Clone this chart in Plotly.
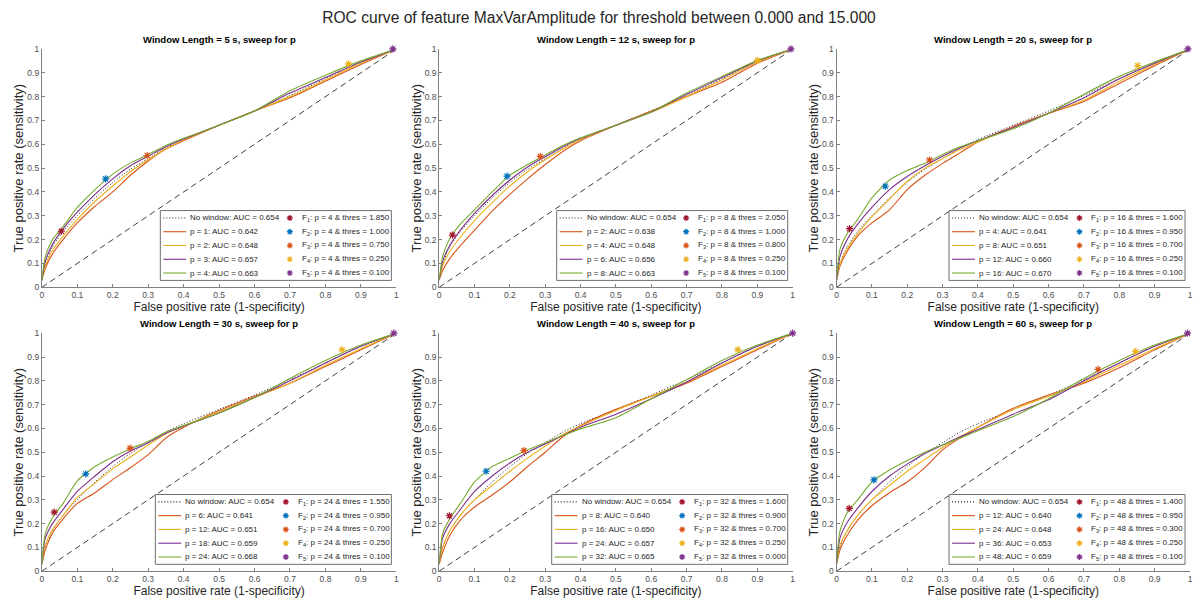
import plotly.graph_objects as go

W, H = 1198, 608
FONT = "Liberation Sans, Arial, Helvetica, sans-serif"

# ---------------- data ----------------
FPR = [0, 0.01, 0.03, 0.06, 0.1, 0.15, 0.2, 0.25, 0.3, 0.35, 0.4, 0.5, 0.6, 0.7, 0.8, 0.9, 1.0]

NOWIN_TPR = [0.03, 0.10, 0.17, 0.235, 0.30, 0.375, 0.44, 0.495, 0.54, 0.585, 0.62, 0.68, 0.74, 0.805, 0.875, 0.945, 1.0]
NOWIN_AUC = 0.654

WINDOWS = [5, 12, 20, 30, 40, 60]

P_W5 = [1, 2, 3, 4]
AUC_W5 = [0.642, 0.648, 0.657, 0.663]
TPR_W5 = [
    [0.03, 0.08, 0.14, 0.20, 0.27, 0.34, 0.40, 0.47, 0.53, 0.58, 0.615, 0.68, 0.74, 0.795, 0.865, 0.935, 1.0],
    [0.03, 0.09, 0.155, 0.215, 0.285, 0.36, 0.425, 0.485, 0.535, 0.58, 0.618, 0.68, 0.74, 0.80, 0.87, 0.94, 1.0],
    [0.03, 0.11, 0.18, 0.245, 0.315, 0.39, 0.455, 0.51, 0.55, 0.59, 0.622, 0.68, 0.74, 0.815, 0.88, 0.945, 1.0],
    [0.03, 0.13, 0.20, 0.255, 0.335, 0.41, 0.475, 0.522, 0.557, 0.595, 0.625, 0.68, 0.74, 0.825, 0.89, 0.95, 1.0],
]
FX_W5 = [0.055, 0.18, 0.297, 0.865, 0.99]
FY_W5 = [0.235, 0.455, 0.553, 0.937, 1.0]
THR_W5 = [1.850, 1.000, 0.750, 0.250, 0.100]

P_W12 = [2, 4, 6, 8]
AUC_W12 = [0.638, 0.648, 0.656, 0.663]
TPR_W12 = [
    [0.03, 0.07, 0.12, 0.175, 0.24, 0.32, 0.39, 0.455, 0.515, 0.57, 0.615, 0.68, 0.74, 0.80, 0.86, 0.94, 1.0],
    [0.03, 0.09, 0.15, 0.21, 0.28, 0.355, 0.425, 0.485, 0.535, 0.58, 0.62, 0.68, 0.735, 0.80, 0.87, 0.945, 1.0],
    [0.03, 0.11, 0.175, 0.24, 0.31, 0.385, 0.45, 0.505, 0.548, 0.59, 0.625, 0.68, 0.735, 0.81, 0.88, 0.95, 1.0],
    [0.03, 0.13, 0.205, 0.265, 0.325, 0.40, 0.47, 0.515, 0.555, 0.595, 0.627, 0.68, 0.735, 0.815, 0.885, 0.952, 1.0],
]
FX_W12 = [0.0375, 0.192, 0.286, 0.90, 0.995]
FY_W12 = [0.219, 0.466, 0.549, 0.952, 1.0]
THR_W12 = [2.050, 1.000, 0.800, 0.250, 0.100]

P_W20 = [4, 8, 12, 16]
AUC_W20 = [0.641, 0.651, 0.660, 0.670]
TPR_W20 = [
    [0.03, 0.09, 0.15, 0.215, 0.27, 0.325, 0.41, 0.47, 0.52, 0.565, 0.61, 0.675, 0.73, 0.78, 0.855, 0.93, 1.0],
    [0.03, 0.10, 0.16, 0.225, 0.295, 0.37, 0.445, 0.50, 0.54, 0.578, 0.61, 0.67, 0.73, 0.785, 0.865, 0.935, 1.0],
    [0.03, 0.13, 0.20, 0.265, 0.335, 0.41, 0.465, 0.51, 0.55, 0.585, 0.615, 0.67, 0.73, 0.795, 0.875, 0.94, 1.0],
    [0.03, 0.16, 0.225, 0.285, 0.375, 0.45, 0.49, 0.52, 0.557, 0.59, 0.615, 0.665, 0.73, 0.81, 0.885, 0.945, 1.0],
]
FX_W20 = [0.037, 0.138, 0.263, 0.852, 0.994]
FY_W20 = [0.246, 0.424, 0.534, 0.93, 1.0]
THR_W20 = [1.600, 0.950, 0.700, 0.250, 0.100]

P_W30 = [6, 12, 18, 24]
AUC_W30 = [0.641, 0.651, 0.659, 0.668]
TPR_W30 = [
    [0.03, 0.09, 0.16, 0.22, 0.285, 0.33, 0.385, 0.435, 0.49, 0.56, 0.605, 0.675, 0.735, 0.79, 0.86, 0.93, 1.0],
    [0.03, 0.11, 0.175, 0.235, 0.31, 0.37, 0.43, 0.48, 0.53, 0.578, 0.61, 0.67, 0.73, 0.79, 0.865, 0.935, 1.0],
    [0.03, 0.14, 0.20, 0.26, 0.335, 0.40, 0.46, 0.505, 0.54, 0.58, 0.61, 0.665, 0.73, 0.80, 0.875, 0.945, 1.0],
    [0.03, 0.16, 0.225, 0.285, 0.38, 0.44, 0.48, 0.515, 0.545, 0.585, 0.612, 0.665, 0.73, 0.81, 0.885, 0.95, 1.0],
]
FX_W30 = [0.035, 0.124, 0.249, 0.847, 0.993]
FY_W30 = [0.248, 0.409, 0.517, 0.931, 1.0]
THR_W30 = [1.550, 0.950, 0.700, 0.250, 0.100]

P_W40 = [8, 16, 24, 32]
AUC_W40 = [0.640, 0.650, 0.657, 0.665]
TPR_W40 = [
    [0.03, 0.08, 0.15, 0.215, 0.27, 0.32, 0.375, 0.44, 0.50, 0.565, 0.612, 0.68, 0.735, 0.79, 0.86, 0.93, 1.0],
    [0.03, 0.10, 0.17, 0.235, 0.30, 0.36, 0.42, 0.475, 0.525, 0.575, 0.61, 0.675, 0.735, 0.795, 0.865, 0.935, 1.0],
    [0.03, 0.14, 0.20, 0.26, 0.335, 0.40, 0.455, 0.50, 0.535, 0.57, 0.605, 0.66, 0.725, 0.795, 0.875, 0.945, 1.0],
    [0.03, 0.16, 0.22, 0.285, 0.375, 0.44, 0.475, 0.51, 0.54, 0.57, 0.598, 0.645, 0.725, 0.805, 0.885, 0.95, 1.0],
]
FX_W40 = [0.029, 0.133, 0.24, 0.845, 1.0]
FY_W40 = [0.233, 0.42, 0.507, 0.931, 1.0]
THR_W40 = [1.600, 0.900, 0.700, 0.250, 0.000]

P_W60 = [12, 24, 36, 48]
AUC_W60 = [0.640, 0.648, 0.653, 0.659]
TPR_W60 = [
    [0.03, 0.09, 0.15, 0.215, 0.275, 0.33, 0.375, 0.435, 0.51, 0.56, 0.605, 0.685, 0.74, 0.79, 0.855, 0.93, 1.0],
    [0.03, 0.11, 0.17, 0.235, 0.30, 0.36, 0.42, 0.47, 0.52, 0.565, 0.605, 0.68, 0.735, 0.795, 0.865, 0.935, 1.0],
    [0.03, 0.14, 0.205, 0.265, 0.335, 0.40, 0.45, 0.495, 0.53, 0.565, 0.595, 0.66, 0.72, 0.80, 0.875, 0.945, 1.0],
    [0.03, 0.17, 0.245, 0.30, 0.375, 0.425, 0.465, 0.50, 0.53, 0.56, 0.59, 0.65, 0.725, 0.81, 0.885, 0.95, 1.0],
]
FX_W60 = [0.036, 0.106, 0.74, 0.846, 0.993]
FY_W60 = [0.264, 0.384, 0.848, 0.923, 1.0]
THR_W60 = [1.400, 0.950, 0.300, 0.250, 0.100]

CURVE_COLORS = ["#D95319", "#EDB120", "#7E2F8E", "#77AC30"]
F_COLORS = ["#A2142F", "#0072BD", "#D95319", "#EDB120", "#7E2F8E"]

PANELS = [
    (WINDOWS[0], P_W5, AUC_W5, TPR_W5, FX_W5, FY_W5, THR_W5),
    (WINDOWS[1], P_W12, AUC_W12, TPR_W12, FX_W12, FY_W12, THR_W12),
    (WINDOWS[2], P_W20, AUC_W20, TPR_W20, FX_W20, FY_W20, THR_W20),
    (WINDOWS[3], P_W30, AUC_W30, TPR_W30, FX_W30, FY_W30, THR_W30),
    (WINDOWS[4], P_W40, AUC_W40, TPR_W40, FX_W40, FY_W40, THR_W40),
    (WINDOWS[5], P_W60, AUC_W60, TPR_W60, FX_W60, FY_W60, THR_W60),
]

# ---------------- layout (pixels) ----------------
COL_L = [40, 439, 838]
COL_R = [396, 794, 1193]
ROW_T = [44.7, 333.7]
ROW_B = [287, 575.7]


def fx(px):
    return px / W


def fy(py):
    return 1 - py / H


AX_LINE = "#808080"
TICK_FONT = dict(family=FONT, size=8.5, color="#4d4d4d")
TEXT_COLOR = "#262626"
LEG_FONT = dict(family=FONT, size=8, color=TEXT_COLOR)

fig = go.Figure()
shapes = []
annotations = []

for i, (win, ps, aucs, tprs, fxs, fys, thrs) in enumerate(PANELS):
    r, c = divmod(i, 3)
    n = "" if i == 0 else str(i + 1)
    xa, ya = "x" + n, "y" + n

    # chance diagonal
    fig.add_trace(go.Scatter(x=[0, 1], y=[0, 1], mode="lines", xaxis=xa, yaxis=ya,
                             line=dict(color="#404040", width=1, dash="6px,4px"),
                             showlegend=False, hoverinfo="skip"))
    # no window curve
    fig.add_trace(go.Scatter(x=FPR, y=NOWIN_TPR, mode="lines", xaxis=xa, yaxis=ya,
                             line=dict(color="#202020", width=1, dash="1px,2px", shape="spline", smoothing=0.6),
                             name=f"No window: AUC = {NOWIN_AUC:.3f}", showlegend=False))
    for k in range(4):
        fig.add_trace(go.Scatter(x=FPR, y=tprs[k], mode="lines", xaxis=xa, yaxis=ya,
                                 line=dict(color=CURVE_COLORS[k], width=1.1, shape="spline", smoothing=0.6),
                                 name=f"p = {ps[k]}: AUC = {aucs[k]:.3f}", showlegend=False))
    for k in range(5):
        fig.add_trace(go.Scatter(x=[fxs[k]], y=[fys[k]], mode="markers", xaxis=xa, yaxis=ya,
                                 marker=dict(symbol="asterisk-open", size=6,
                                             color=F_COLORS[k], line=dict(color=F_COLORS[k], width=1.2)),
                                 cliponaxis=False,
                                 name=f"F{k+1}: p = {ps[-1]} & thres = {thrs[k]:.3f}", showlegend=False))

    axis_common = dict(range=[0, 1], dtick=0.1, tick0=0, ticks="inside", ticklen=3,
                       tickcolor=AX_LINE, showline=True, linecolor=AX_LINE, linewidth=1,
                       showgrid=False, zeroline=False, tickfont=TICK_FONT, mirror=False)
    fig.update_layout({
        "xaxis" + n: dict(axis_common, domain=[fx(COL_L[c]), fx(COL_R[c])], anchor=ya,
                          title=dict(text="False positive rate (1-specificity)", standoff=3,
                                     font=dict(family=FONT, size=12, color=TEXT_COLOR))),
        "yaxis" + n: dict(axis_common, domain=[fy(ROW_B[r]), fy(ROW_T[r])], anchor=xa,
                          title=dict(text="True positive rate (sensitivity)", standoff=0,
                                     font=dict(family=FONT, size=13, color=TEXT_COLOR))),
    })

    # subplot title
    annotations.append(dict(text=f"<b>Window Length = {win} s, sweep for p</b>", xref="paper", yref="paper",
                            x=fx((COL_L[c] + COL_R[c]) / 2), y=fy(ROW_T[r] - 10), xanchor="center",
                            yanchor="middle", showarrow=False,
                            font=dict(family=FONT, size=9.5, color="#000000")))

    # legend box (wider when p has two digits)
    two = ps[-1] >= 10
    bR = COL_R[c] - 5
    bB = ROW_B[r] - 7
    bW = 237 if two else 232
    bL = bR - bW
    bT = bB - 71
    shapes.append(dict(type="rect", xref="paper", yref="paper", layer="above",
                       x0=fx(bL), x1=fx(bR), y0=fy(bB), y1=fy(bT),
                       fillcolor="white", line=dict(color="#6e6e6e", width=1)))
    labels1 = [f"No window: AUC = {NOWIN_AUC:.3f}"] + [f"p = {ps[k]}: AUC = {aucs[k]:.3f}" for k in range(4)]
    colors1 = ["#202020"] + CURVE_COLORS
    dashes1 = ["1px,2px"] + ["solid"] * 4
    c2 = bL + (131 if two else 130)
    for j in range(5):
        yy = bT + 7.5 + 14 * j
        shapes.append(dict(type="line", xref="paper", yref="paper", layer="above",
                           x0=fx(bL + 3), x1=fx(bL + 26), y0=fy(yy), y1=fy(yy),
                           line=dict(color=colors1[j], width=1.1, dash=dashes1[j])))
        annotations.append(dict(text=labels1[j], xref="paper", yref="paper", x=fx(bL + 28), y=fy(yy),
                                xanchor="left", yanchor="middle", showarrow=False, font=LEG_FONT))
        # marker glyph (asterisk)
        cx, cy, rr, dd = c2, yy, 3.0, 2.1
        path = (f"M{fx(cx-rr)},{fy(cy)} L{fx(cx+rr)},{fy(cy)} "
                f"M{fx(cx)},{fy(cy-rr)} L{fx(cx)},{fy(cy+rr)} "
                f"M{fx(cx-dd)},{fy(cy-dd)} L{fx(cx+dd)},{fy(cy+dd)} "
                f"M{fx(cx-dd)},{fy(cy+dd)} L{fx(cx+dd)},{fy(cy-dd)}")
        shapes.append(dict(type="path", xref="paper", yref="paper", layer="above", path=path,
                           line=dict(color=F_COLORS[j], width=1.2)))
        annotations.append(dict(text=f"F<sub>{j+1}</sub>: p = {ps[-1]} &amp; thres = {thrs[j]:.3f}",
                                xref="paper", yref="paper", x=fx(c2 + 10), y=fy(yy),
                                xanchor="left", yanchor="middle", showarrow=False, font=LEG_FONT))

fig.update_layout(
    width=W, height=H,
    margin=dict(l=0, r=0, t=0, b=0),
    paper_bgcolor="white", plot_bgcolor="white",
    title=dict(text="ROC curve of feature MaxVarAmplitude for threshold between 0.000 and 15.000",
               x=0.5, xanchor="center", y=fy(18), yanchor="middle",
               font=dict(family=FONT, size=15.6, color=TEXT_COLOR)),
    shapes=shapes, annotations=annotations, showlegend=False,
    font=dict(family=FONT),
)

fig.write_html("out.html")
